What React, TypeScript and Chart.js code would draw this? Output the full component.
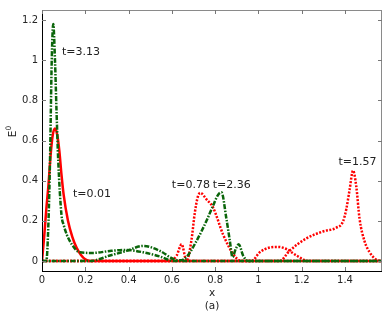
import React, { useEffect, useRef } from 'react';
import { Chart, registerables } from 'chart.js';

Chart.register(...registerables);

const FONT = 'DejaVu Sans';
const X_MAX = 1.5708;
const Y_MIN = -0.05;
const Y_MAX = 1.25;
const xTicks = [0, 0.2, 0.4, 0.6, 0.8, 1, 1.2, 1.4];
const yTicks = [0, 0.2, 0.4, 0.6, 0.8, 1, 1.2];

// t = 0.01 (red solid)
const t001X = [0, 0.01, 0.02, 0.03, 0.04, 0.05, 0.06, 0.07, 0.08, 0.09, 0.1, 0.12, 0.14, 0.16, 0.18, 0.2, 0.22, 1.5708];
const t001Y = [0, 0.12, 0.26, 0.38, 0.53, 0.63, 0.66, 0.63, 0.55, 0.43, 0.33, 0.2, 0.12, 0.065, 0.03, 0.008, 0, 0];

// t = 3.13 (green dash-dot)
const t313X = [0, 0.02, 0.03, 0.037, 0.045, 0.052, 0.06, 0.067, 0.075, 0.09, 0.1, 0.115, 0.137, 0.175, 0.237, 0.315, 0.39, 0.468, 0.545, 0.606, 1.5708];
const t313Y = [0, 0, 0.2, 0.5, 1.0, 1.18, 1.0, 0.75, 0.5, 0.23, 0.18, 0.13, 0.084, 0.043, 0.04, 0.05, 0.055, 0.043, 0.022, 0, 0];

// t = 2.36 (green dash-dot)
const t236X = [0, 0.22, 0.314, 0.39, 0.468, 0.545, 0.606, 0.637, 0.668, 0.714, 0.76, 0.79, 0.814, 0.829, 0.852, 0.868, 0.88, 0.895, 0.909, 0.929, 0.952, 1.5708];
const t236Y = [0, 0, 0.027, 0.05, 0.075, 0.05, 0.01, 0.003, 0.02, 0.1, 0.2, 0.275, 0.33, 0.342, 0.21, 0.099, 0.019, 0.06, 0.083, 0.027, 0, 0];

// t = 0.78 (red dotted)
const t078X = [0, 0.59, 0.622, 0.645, 0.668, 0.69, 0.706, 0.72, 0.732, 0.76, 0.79, 0.837, 0.883, 0.92, 0.968, 1.006, 1.052, 1.09, 1.13, 1.176, 1.229, 1.5708];
const t078Y = [0, 0, 0.027, 0.083, 0, 0.1, 0.24, 0.32, 0.339, 0.307, 0.267, 0.131, 0.035, 0, 0, 0.043, 0.067, 0.07, 0.059, 0.027, 0, 0];

// t = 1.57 (red dotted)
const t157X = [0, 1.098, 1.144, 1.221, 1.298, 1.36, 1.39, 1.406, 1.421, 1.437, 1.452, 1.467, 1.49, 1.514, 1.545, 1.5708];
const t157Y = [0, 0, 0.051, 0.112, 0.147, 0.166, 0.195, 0.259, 0.354, 0.45, 0.371, 0.211, 0.099, 0.043, 0.006, 0];

const labelTexts = ['t=3.13', 't=0.01', 't=0.78', 't=2.36', 't=1.57'];
const labelX = [0.092, 0.143, 0.6, 0.789, 1.37];
const labelY = [1.039, 0.334, 0.377, 0.377, 0.492];

const pts = (xs: number[], ys: number[]) => xs.map((x, i) => ({ x, y: ys[i] }));

const RED = '#ff0000';
const GREEN = '#0a650a';

const framePlugin = {
  id: 'frame',
  afterDatasetsDraw(chart: any) {
    const { ctx, chartArea: a, scales } = chart;
    const xs = scales.x;
    const ys = scales.y;
    ctx.save();
    // frame
    ctx.lineWidth = 1;
    ctx.strokeStyle = '#8a8a8a';
    ctx.beginPath();
    ctx.moveTo(a.left, a.top + 0.5);
    ctx.lineTo(a.right, a.top + 0.5);
    ctx.moveTo(a.right - 0.5, a.top);
    ctx.lineTo(a.right - 0.5, a.bottom + 1);
    ctx.stroke();
    ctx.strokeStyle = '#000';
    ctx.beginPath();
    ctx.moveTo(a.left + 0.5, a.top);
    ctx.lineTo(a.left + 0.5, a.bottom + 1);
    ctx.moveTo(a.left, a.bottom + 0.5);
    ctx.lineTo(a.right, a.bottom + 0.5);
    ctx.stroke();
    // inward ticks
    ctx.strokeStyle = '#777';
    ctx.beginPath();
    const tl = 4;
    xTicks.forEach((v) => {
      const px = Math.round(xs.getPixelForValue(v)) + 0.5;
      if (v !== 0) {
        ctx.moveTo(px, a.bottom);
        ctx.lineTo(px, a.bottom - tl);
      }
      ctx.moveTo(px, a.top);
      ctx.lineTo(px, a.top + tl);
    });
    yTicks.forEach((v) => {
      const py = Math.round(ys.getPixelForValue(v)) + 0.5;
      ctx.moveTo(a.left, py);
      ctx.lineTo(a.left + tl, py);
      ctx.moveTo(a.right, py);
      ctx.lineTo(a.right - tl, py);
    });
    ctx.stroke();
    // curve labels
    ctx.fillStyle = '#222';
    ctx.font = `11px "${FONT}"`;
    ctx.textAlign = 'left';
    ctx.textBaseline = 'middle';
    labelTexts.forEach((t, i) => {
      ctx.fillText(t, xs.getPixelForValue(labelX[i]), ys.getPixelForValue(labelY[i]));
    });
    // y axis title E^0
    ctx.translate(13, 133);
    ctx.rotate(-Math.PI / 2);
    ctx.textAlign = 'center';
    ctx.textBaseline = 'middle';
    ctx.font = `10.5px "${FONT}"`;
    ctx.fillText('E', -1, 0);
    ctx.font = `7.5px "${FONT}"`;
    ctx.fillText('0', 5, -4);
    ctx.restore();
  },
};

export default function App() {
  const ref = useRef<HTMLCanvasElement | null>(null);
  useEffect(() => {
    document.body.style.margin = '0';
    const canvas = ref.current;
    if (!canvas) return;
    const common = { pointRadius: 0, borderWidth: 2.5, fill: false, cubicInterpolationMode: 'monotone' as const };
    const chart = new Chart(canvas, {
      type: 'line',
      data: {
        datasets: [
          { ...common, label: 't=0.01', data: pts(t001X, t001Y), borderColor: RED, order: 3 },
          { ...common, label: 't=0.78', data: pts(t078X, t078Y), borderColor: RED, borderDash: [2, 1.5], order: 2 },
          { ...common, label: 't=1.57', data: pts(t157X, t157Y), borderColor: RED, borderDash: [2, 1.5], order: 2 },
          { ...common, label: 't=2.36', data: pts(t236X, t236Y), borderColor: GREEN, borderDash: [5, 1.5, 1.5, 1.5], order: 1 },
          { ...common, label: 't=3.13', data: pts(t313X, t313Y), borderColor: GREEN, borderDash: [5, 1.5, 1.5, 1.5], order: 0 },
        ],
      },
      options: {
        responsive: false,
        animation: false,
        events: [],
        layout: { padding: 0 },
        plugins: { legend: { display: false }, tooltip: { enabled: false } },
        scales: {
          x: {
            type: 'linear',
            min: 0,
            max: X_MAX,
            grid: { display: false, drawTicks: false },
            border: { display: false },
            afterBuildTicks: (s: any) => {
              s.ticks = xTicks.map((v) => ({ value: v }));
            },
            afterFit: (s: any) => {
              s.height = 42;
            },
            ticks: {
              padding: 3,
              autoSkip: false,
              maxRotation: 0,
              color: '#262626',
              font: { family: FONT, size: 10 },
              callback: (v: any) => String(Math.round(Number(v) * 10) / 10),
            },
            title: {
              display: true,
              text: ['x', '(a)'],
              color: '#222',
              font: { family: FONT, size: 10.5, lineHeight: 13 / 10.5 },
              padding: 0,
            },
          },
          y: {
            type: 'linear',
            min: Y_MIN,
            max: Y_MAX,
            grid: { display: false, drawTicks: false },
            border: { display: false },
            afterBuildTicks: (s: any) => {
              s.ticks = yTicks.map((v) => ({ value: v }));
            },
            afterFit: (s: any) => {
              s.width = 42;
            },
            ticks: {
              padding: 4,
              autoSkip: false,
              color: '#262626',
              font: { family: FONT, size: 10 },
              callback: (v: any) => String(Math.round(Number(v) * 10) / 10),
            },
          },
        },
      },
      plugins: [framePlugin],
    });
    return () => chart.destroy();
  }, []);
  return (
    <div style={{ position: 'absolute', left: 0, top: 0, width: 382, height: 313 }}>
      <canvas ref={ref} width={382} height={313} style={{ width: 382, height: 313, display: 'block' }} />
    </div>
  );
}
